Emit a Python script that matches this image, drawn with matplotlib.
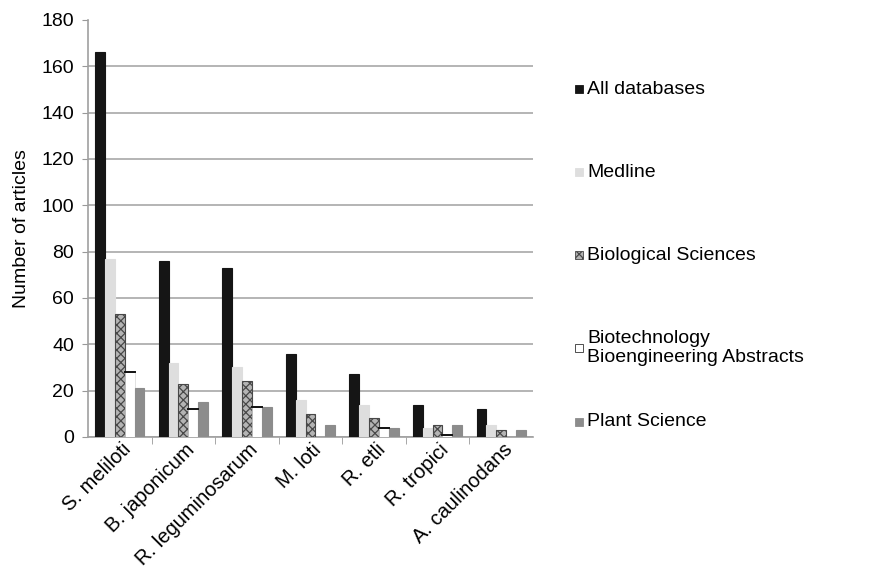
import numpy as np
import matplotlib
matplotlib.use("Agg")
import matplotlib.pyplot as plt
from matplotlib.patches import Rectangle

plt.rcParams['font.family'] = ['Liberation Sans', 'DejaVu Sans']
plt.rcParams['hatch.linewidth'] = 0.9

species = ['S. meliloti', 'B. japonicum', 'R. leguminosarum', 'M. loti',
           'R. etli', 'R. tropici', 'A. caulinodans']
all_db = [166, 76, 73, 36, 27, 14, 12]
medline = [77, 32, 30, 16, 14, 4, 5]
bio_sci = [53, 23, 24, 10, 8, 5, 3]
biotech = [28, 12, 13, 0, 4, 1, 0]
plant_sci = [21, 15, 13, 5, 4, 5, 3]

series_names = ['All databases', 'Medline', 'Biological Sciences',
                'Biotechnology\nBioengineering Abstracts', 'Plant Science']
series_vals = [all_db, medline, bio_sci, biotech, plant_sci]

# (facecolor, edgecolor, hatch)
styles = [
    ('#151515', '#151515', None),
    ('#dedede', '#dedede', None),
    ('#b4b4b4', '#484848', 'xxxx'),
    ('white', '#222222', None),
    ('#8c8c8c', '#8c8c8c', None),
]

fig = plt.figure(figsize=(8.94, 5.85), dpi=100)
ax = fig.add_axes([0.0984, 0.253, 0.4977, 0.713])

x = np.arange(len(species))
w = 0.155
for i, (vals, (fc, ec, hatch)) in enumerate(zip(series_vals, styles)):
    bars = ax.bar(x + (i - 2) * w, vals, width=w, facecolor=fc,
                  edgecolor=ec, hatch=hatch, linewidth=0.8, zorder=3)
    if i == 3:
        # only the top edge of the white bars stands out
        for b in bars:
            b.set_linewidth(0.4)
            b.set_edgecolor('#cccccc')
            if b.get_height() > 0:
                ax.plot([b.get_x(), b.get_x() + w], [b.get_height()] * 2,
                        color='#111111', lw=1.4, zorder=4)

ax.set_xlim(-0.5, len(species) - 0.5)
ax.set_ylim(0, 180)
ax.set_yticks(np.arange(0, 181, 20))
ax.yaxis.grid(True, color='#a8a8a8', lw=1.2, zorder=0)
ax.yaxis.get_gridlines()[-1].set_visible(False)

# labels sit slightly right of each group centre so the slanted text ends there
ax.set_xticks(x + 0.13)
ax.set_xticklabels(species, rotation=45, ha='right', va='center',
                   rotation_mode='anchor', fontsize=14.5)
ax.set_xticks(np.arange(0.5, len(species) - 0.5, 1), minor=True)
ax.tick_params(axis='x', which='major', length=0, pad=7)
ax.tick_params(axis='x', which='minor', length=5, color='#999999')
ax.tick_params(axis='y', length=4, color='#999999', labelsize=14, pad=6)

for s in ['top', 'right']:
    ax.spines[s].set_visible(False)
for s in ['left', 'bottom']:
    ax.spines[s].set_color('#a0a0a0')
    ax.spines[s].set_linewidth(1.2)

ax.set_ylabel('Number of articles', fontsize=14, labelpad=8)

# legend drawn by hand on the right side
leg_y = [89, 172, 255, 348, 422]
for (fc, ec, hatch), name, py in zip(styles, series_names, leg_y):
    fy = 1 - py / 585
    fig.patches.append(Rectangle((575 / 894, fy - 4 / 585), 8 / 894, 8 / 585,
                                 transform=fig.transFigure, facecolor=fc,
                                 edgecolor=ec if fc != 'white' else '#333333',
                                 hatch=hatch, lw=0.6))
    fig.text(587 / 894, fy, name, fontsize=14, va='center', ha='left',
             linespacing=1.1)

fig.savefig('out.png', dpi=100)
